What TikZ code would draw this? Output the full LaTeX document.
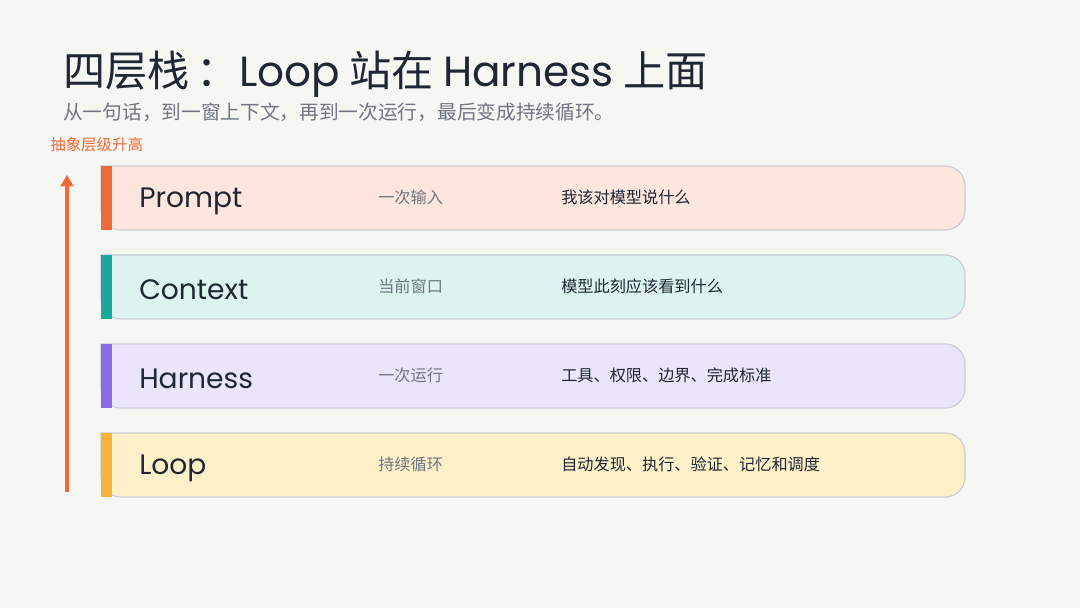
\documentclass[tikz,border=0pt]{standalone}
\usepackage{fontspec}
\usetikzlibrary{arrows.meta}
\setmainfont{Noto Sans CJK SC}
\newfontfamily\latinfont{Poppins}
\definecolor{bgc}{HTML}{F6F6F2}
\definecolor{ink}{HTML}{1F2733}
\definecolor{grayt}{HTML}{6F7682}
\definecolor{orng}{HTML}{EE6A3A}
\definecolor{edge}{HTML}{CACDD6}
\tikzset{
  headtxt/.style={anchor=base west, inner sep=0pt, font=\fontsize{30}{32}\selectfont, text=ink},
  subtxt/.style={anchor=base west, inner sep=0pt, font=\fontsize{14}{16}\selectfont, text=grayt},
  layertxt/.style={anchor=west, inner sep=0pt, font=\latinfont\fontsize{20}{22}\selectfont, text=ink},
  midtxt/.style={anchor=west, inner sep=0pt, font=\fontsize{11.5}{13}\selectfont, text=grayt},
  desctxt/.style={anchor=west, inner sep=0pt, font=\fontsize{11.5}{13}\selectfont, text=ink},
}
\begin{document}
\begin{tikzpicture}[x=0.025cm, y=-0.025cm]
  \fill[bgc] (0,0) rectangle (1080,608);
  \useasboundingbox (0,0) rectangle (1080,608);

  \node[headtxt] (T) at (63,86) {四层栈\,：{\latinfont Loop} 站在 {\latinfont Harness} 上面};
  \node[subtxt] (S) at (63,119) {从一句话，到一窗上下文，再到一次运行，最后变成持续循环。};
  \node[anchor=base west, inner sep=0pt, font=\fontsize{11}{13}\selectfont, text=orng] (L) at (50,150) {抽象层级升高};

  \coordinate (A0) at (67,492);
  \coordinate (A1) at (67,175);
  \draw[orng, line width=3pt, -{Triangle[length=8pt,width=9pt]}] (A0) -- (A1);

  % cards
  \foreach \y/\fc/\bc in {166/FDE6DD/EE6A3A, 255/DDF3EF/1AA89E, 344/EAE5FB/8C6BE6, 433/FDF0C9/F2B53A} {
    \definecolor{fc}{HTML}{\fc}
    \definecolor{bc}{HTML}{\bc}
    \draw[fill=fc, draw=edge, line width=0.8pt]
      (101,\y) [rounded corners=14] -- (965,\y) -- (965,\y+64) -- (101,\y+64) [sharp corners] -- cycle;
    \fill[bc] (101,\y) rectangle (112,\y+64);
  }

  \node[layertxt] (P1) at (139,201) {Prompt};
  \node[midtxt] (P2) at (378,197) {一次输入};
  \node[desctxt] (P3) at (561,197) {我该对模型说什么};

  \node[layertxt] (C1) at (139,290) {Context};
  \node[midtxt] (C2) at (378,286) {当前窗口};
  \node[desctxt] (C3) at (561,286) {模型此刻应该看到什么};

  \node[layertxt] (H1) at (139,379) {Harness};
  \node[midtxt] (H2) at (378,375) {一次运行};
  \node[desctxt] (H3) at (561,375) {工具、权限、边界、完成标准};

  \node[layertxt] (O1) at (139,468) {Loop};
  \node[midtxt] (O2) at (378,464) {持续循环};
  \node[desctxt] (O3) at (561,464) {自动发现、执行、验证、记忆和调度};
\end{tikzpicture}
\end{document}
